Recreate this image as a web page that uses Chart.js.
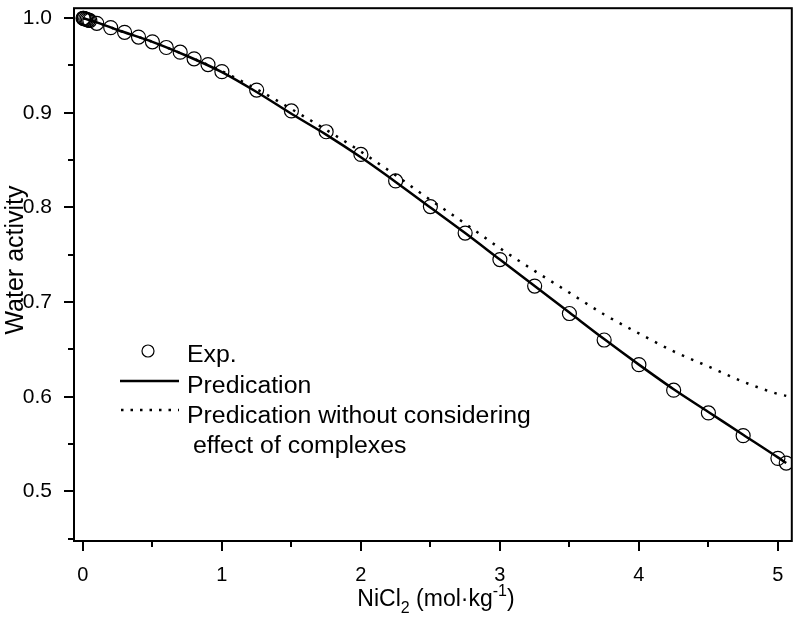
<!DOCTYPE html>
<html>
<head>
<meta charset="utf-8">
<script src="https://cdn.jsdelivr.net/npm/chart.js@4"></script>
<style>
  html, body { margin: 0; padding: 0; background: #fff; }
  #wrap { width: 800px; height: 620px; }
</style>
</head>
<body>
<div id="wrap"><canvas id="awChart" width="800" height="620"></canvas></div>
<script>
// experimental points, NiCl2 molality vs water activity
var expMolality = [0.001, 0.005, 0.01, 0.02, 0.03, 0.04, 0.05, 0.1, 0.2, 0.3, 0.4, 0.5, 0.6, 0.7, 0.8, 0.9, 1.0,
    1.25, 1.5, 1.75, 2.0, 2.25, 2.5, 2.75, 3.0, 3.25, 3.5, 3.75, 4.0, 4.25, 4.5, 4.75, 5.0, 5.06];
var expActivity = [0.9999, 0.9997, 0.9995, 0.999, 0.9985, 0.998, 0.9975, 0.9945, 0.990, 0.985, 0.980, 0.975, 0.969, 0.964, 0.957, 0.951, 0.9435,
    0.924, 0.902, 0.880, 0.856, 0.828, 0.801, 0.773, 0.745, 0.717, 0.688, 0.660, 0.634, 0.607, 0.583, 0.559, 0.535, 0.530];

// model curves
var curveMolality = [0, 0.1, 0.25, 0.5, 0.75, 1.0, 1.25, 1.5, 1.75, 2.0, 2.25, 2.5, 2.75, 3.0, 3.25, 3.5, 3.75, 4.0, 4.25, 4.5, 4.75, 5.0, 5.06];
var predActivity = [1.0, 0.9955, 0.9875, 0.975, 0.960, 0.943, 0.922, 0.899, 0.877, 0.853, 0.827, 0.800, 0.773, 0.745, 0.717, 0.689, 0.661, 0.634, 0.608, 0.584, 0.560, 0.536, 0.530];
var noComplexActivity = [1.0, 0.9955, 0.9875, 0.975, 0.960, 0.944, 0.925, 0.904, 0.882, 0.859, 0.834, 0.808, 0.783, 0.757, 0.733, 0.710, 0.687, 0.667, 0.648, 0.632, 0.616, 0.603, 0.601];

var xTicks = [0, 1, 2, 3, 4, 5];
var yTicks = [0.5, 0.6, 0.7, 0.8, 0.9, 1.0];

var FONT = 'Arial, "Liberation Sans", sans-serif';
var STRETCH = 1.08; // the original lettering is a little wider than plain Arial

function toPoints(xs, ys) {
    return xs.map((x, i) => ({ x: x, y: ys[i] }));
}

// text drawn slightly wider along its own direction
function wideText(ctx, text, x, y, size) {
    ctx.save();
    ctx.translate(x, y);
    ctx.scale(STRETCH, 1);
    ctx.font = size + 'px ' + FONT;
    ctx.fillText(text, 0, 0);
    var w = ctx.measureText(text).width * STRETCH;
    ctx.restore();
    return w;
}

// frame, outward ticks (major + minor), axis titles and the legend
var decorations = {
    id: 'decorations',
    afterDraw(chart) {
        var ctx = chart.ctx, a = chart.chartArea;
        var xs = chart.scales.x, ys = chart.scales.y;
        ctx.save();
        ctx.strokeStyle = '#000';
        ctx.lineWidth = 2;
        ctx.strokeRect(a.left, a.top, a.right - a.left, a.bottom - a.top);

        for (var v = 0; v <= 5.001; v += 0.5) {
            var px = Math.round(xs.getPixelForValue(v));
            var major = Math.abs(v - Math.round(v)) < 1e-6;
            ctx.beginPath();
            ctx.moveTo(px, a.bottom);
            ctx.lineTo(px, a.bottom + (major ? 10 : 6));
            ctx.stroke();
        }
        for (var w = 0.45; w <= 1.0001; w += 0.05) {
            var py = Math.round(ys.getPixelForValue(w));
            if (py > a.bottom) continue;
            var isMajor = Math.abs(w * 10 - Math.round(w * 10)) < 1e-6;
            ctx.beginPath();
            ctx.moveTo(a.left, py);
            ctx.lineTo(a.left - (isMajor ? 10 : 6), py);
            ctx.stroke();
        }

        ctx.fillStyle = '#000';
        ctx.textAlign = 'left';

        // y title, rotated
        ctx.save();
        ctx.translate(23, 260);
        ctx.rotate(-Math.PI / 2);
        ctx.textBaseline = 'alphabetic';
        ctx.font = '25px ' + FONT;
        var tw = ctx.measureText('Water activity').width;
        ctx.fillText('Water activity', -tw / 2, 0);
        ctx.restore();

        // x title with subscript / superscript
        ctx.textBaseline = 'alphabetic';
        var parts = [['NiCl', 0, 23], ['2', 7, 16], [' (mol\u00b7kg', 0, 23], ['-1', -10, 16], [')', 0, 23]];
        var total = 0;
        parts.forEach(p => { ctx.font = p[2] + 'px ' + FONT; total += ctx.measureText(p[0]).width; });
        var cx = 436 - total / 2;
        parts.forEach(p => {
            ctx.font = p[2] + 'px ' + FONT;
            ctx.fillText(p[0], cx, 606 + p[1]);
            cx += ctx.measureText(p[0]).width;
        });

        // legend
        ctx.lineWidth = 1.2;
        ctx.beginPath();
        ctx.arc(148, 351, 6, 0, Math.PI * 2);
        ctx.stroke();
        wideText(ctx, 'Exp.', 187, 362, 23);

        ctx.lineWidth = 2.5;
        ctx.beginPath();
        ctx.moveTo(120, 381);
        ctx.lineTo(179, 381);
        ctx.stroke();
        wideText(ctx, 'Predication', 187, 393, 23);

        ctx.setLineDash([2.5, 7]);
        ctx.beginPath();
        ctx.moveTo(121, 410);
        ctx.lineTo(179, 410);
        ctx.stroke();
        ctx.setLineDash([]);
        wideText(ctx, 'Predication without considering', 187, 423, 23);
        wideText(ctx, ' effect of complexes', 186, 453, 23);
        ctx.restore();
    }
};

new Chart(document.getElementById('awChart'), {
    type: 'scatter',
    data: {
        datasets: [
            {
                label: 'Exp.',
                data: toPoints(expMolality, expActivity),
                showLine: false,
                pointStyle: 'circle',
                pointRadius: 7,
                pointBorderWidth: 1.2,
                pointBorderColor: '#000',
                pointBackgroundColor: 'rgba(0,0,0,0)',
                order: 0
            },
            {
                label: 'Predication',
                data: toPoints(curveMolality, predActivity),
                showLine: true,
                borderColor: '#000',
                borderWidth: 2.5,
                pointRadius: 0,
                cubicInterpolationMode: 'monotone',
                order: 1
            },
            {
                label: 'Predication without considering effect of complexes',
                data: toPoints(curveMolality, noComplexActivity),
                showLine: true,
                borderColor: '#000',
                borderWidth: 2.5,
                borderDash: [2.5, 7.5],
                pointRadius: 0,
                cubicInterpolationMode: 'monotone',
                order: 2
            }
        ]
    },
    options: {
        responsive: false,
        animation: false,
        layout: { padding: { top: 3, right: 4, left: 0, bottom: 0 } },
        plugins: {
            legend: { display: false },
            tooltip: { enabled: false }
        },
        scales: {
            x: {
                type: 'linear',
                min: -0.064,
                max: 5.10,
                grid: { display: false },
                border: { display: false },
                afterBuildTicks: s => { s.ticks = xTicks.map(v => ({ value: v })); },
                afterFit: s => { s.height = 79; s.paddingLeft = 0; s.paddingRight = 0; },
                ticks: {
                    color: '#000',
                    padding: 14,
                    maxRotation: 0,
                    font: { family: FONT, size: 20 },
                    callback: v => String(v)
                }
            },
            y: {
                type: 'linear',
                min: 0.4477,
                max: 1.0105,
                grid: { display: false },
                border: { display: false },
                afterBuildTicks: s => { s.ticks = yTicks.map(v => ({ value: v })); },
                afterFit: s => { s.width = 74; s.paddingTop = 0; s.paddingBottom = 0; },
                ticks: {
                    color: '#000',
                    padding: 14,
                    font: { family: FONT, size: 21 },
                    callback: v => v.toFixed(1)
                }
            }
        }
    },
    plugins: [decorations]
});
</script>
</body>
</html>
